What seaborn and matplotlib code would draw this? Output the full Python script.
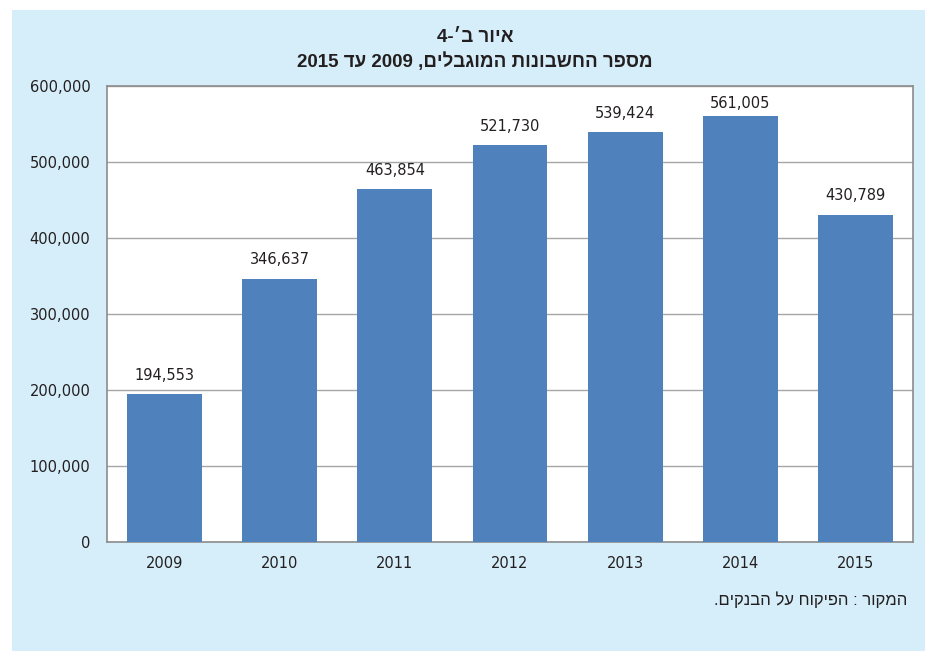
import re
import matplotlib
matplotlib.use("Agg")
import matplotlib.pyplot as plt
import matplotlib.patches as mpatches
import seaborn as sns
import pandas as pd

years = ["2009", "2010", "2011", "2012", "2013", "2014", "2015"]
accounts = [194553, 346637, 463854, 521730, 539424, 561005, 430789]
y_ticks = [0, 100000, 200000, 300000, 400000, 500000, 600000]

title_line1 = "איור ב׳-4"
title_line2 = "מספר החשבונות המוגבלים, 2009 עד 2015"
source_text = "המקור : הפיקוח על הבנקים."


def visual(s):
    # simple RTL -> visual order: reverse string, then restore digit runs
    return re.sub(r"\d+", lambda m: m.group()[::-1], s[::-1])


sns.set_theme(style="white")
plt.rcParams["font.family"] = ["DejaVu Sans"]

df = pd.DataFrame({"year": years, "accounts": accounts})

W, H = 927, 651
fig = plt.figure(figsize=(W / 100, H / 100), dpi=100, facecolor="white")
bg = "#d6eef9"
fig.patches.append(mpatches.Rectangle((12 / W, 0), (925 - 12) / W, (H - 10) / H,
                                      transform=fig.transFigure, facecolor=bg,
                                      edgecolor="none", zorder=-10))

ax = fig.add_axes([107 / W, 1 - 542 / H, (913 - 107) / W, (542 - 86) / H])
ax.set_zorder(1)
ax.set_facecolor("white")
sns.barplot(data=df, x="year", y="accounts", color="#4f81bd", saturation=1,
            width=0.65, linewidth=0, ax=ax, zorder=3)

ax.set_ylim(0, 600000)
ax.set_yticks(y_ticks)
ax.set_yticklabels([f"{v:,}" for v in y_ticks], fontsize=10.5, color="#231f20")
ax.set_xticklabels(years, fontsize=10.5, color="#231f20")
ax.grid(axis="y", color="#a6a6a6", linewidth=1, zorder=0)
ax.set_axisbelow(True)
for s in ax.spines.values():
    s.set_visible(True)
    s.set_color("#8c8c8c")
    s.set_linewidth(1.2)
ax.tick_params(axis="y", length=0, pad=12)
ax.tick_params(axis="x", length=0, pad=10)
ax.set_xlabel("")
ax.set_ylabel("")

bars = ax.containers[0]
for i, (rect, v) in enumerate(zip(bars, accounts)):
    pad = 3 if v > 550000 else 8
    ax.annotate(f"{v:,}", (rect.get_x() + rect.get_width() / 2, rect.get_height()),
                xytext=(0, pad), textcoords="offset points", ha="center",
                va="bottom", fontsize=10.5, color="#231f20", zorder=5)

fig.text(475 / W, 1 - 38 / H, visual(title_line1), ha="center", va="center",
         fontsize=13.5, fontweight="bold", color="#231f20",
         family=["Liberation Sans", "DejaVu Sans"])
fig.text(475 / W, 1 - 62 / H, visual(title_line2), ha="center", va="center",
         fontsize=13.5, fontweight="bold", color="#231f20",
         family=["Liberation Sans", "DejaVu Sans"])
fig.text(907 / W, 1 - 600 / H, visual(source_text), ha="right", va="center",
         fontsize=12, color="#231f20",
         family=["Liberation Sans", "DejaVu Sans"])

fig.savefig("out.png", dpi=100, facecolor="white")
